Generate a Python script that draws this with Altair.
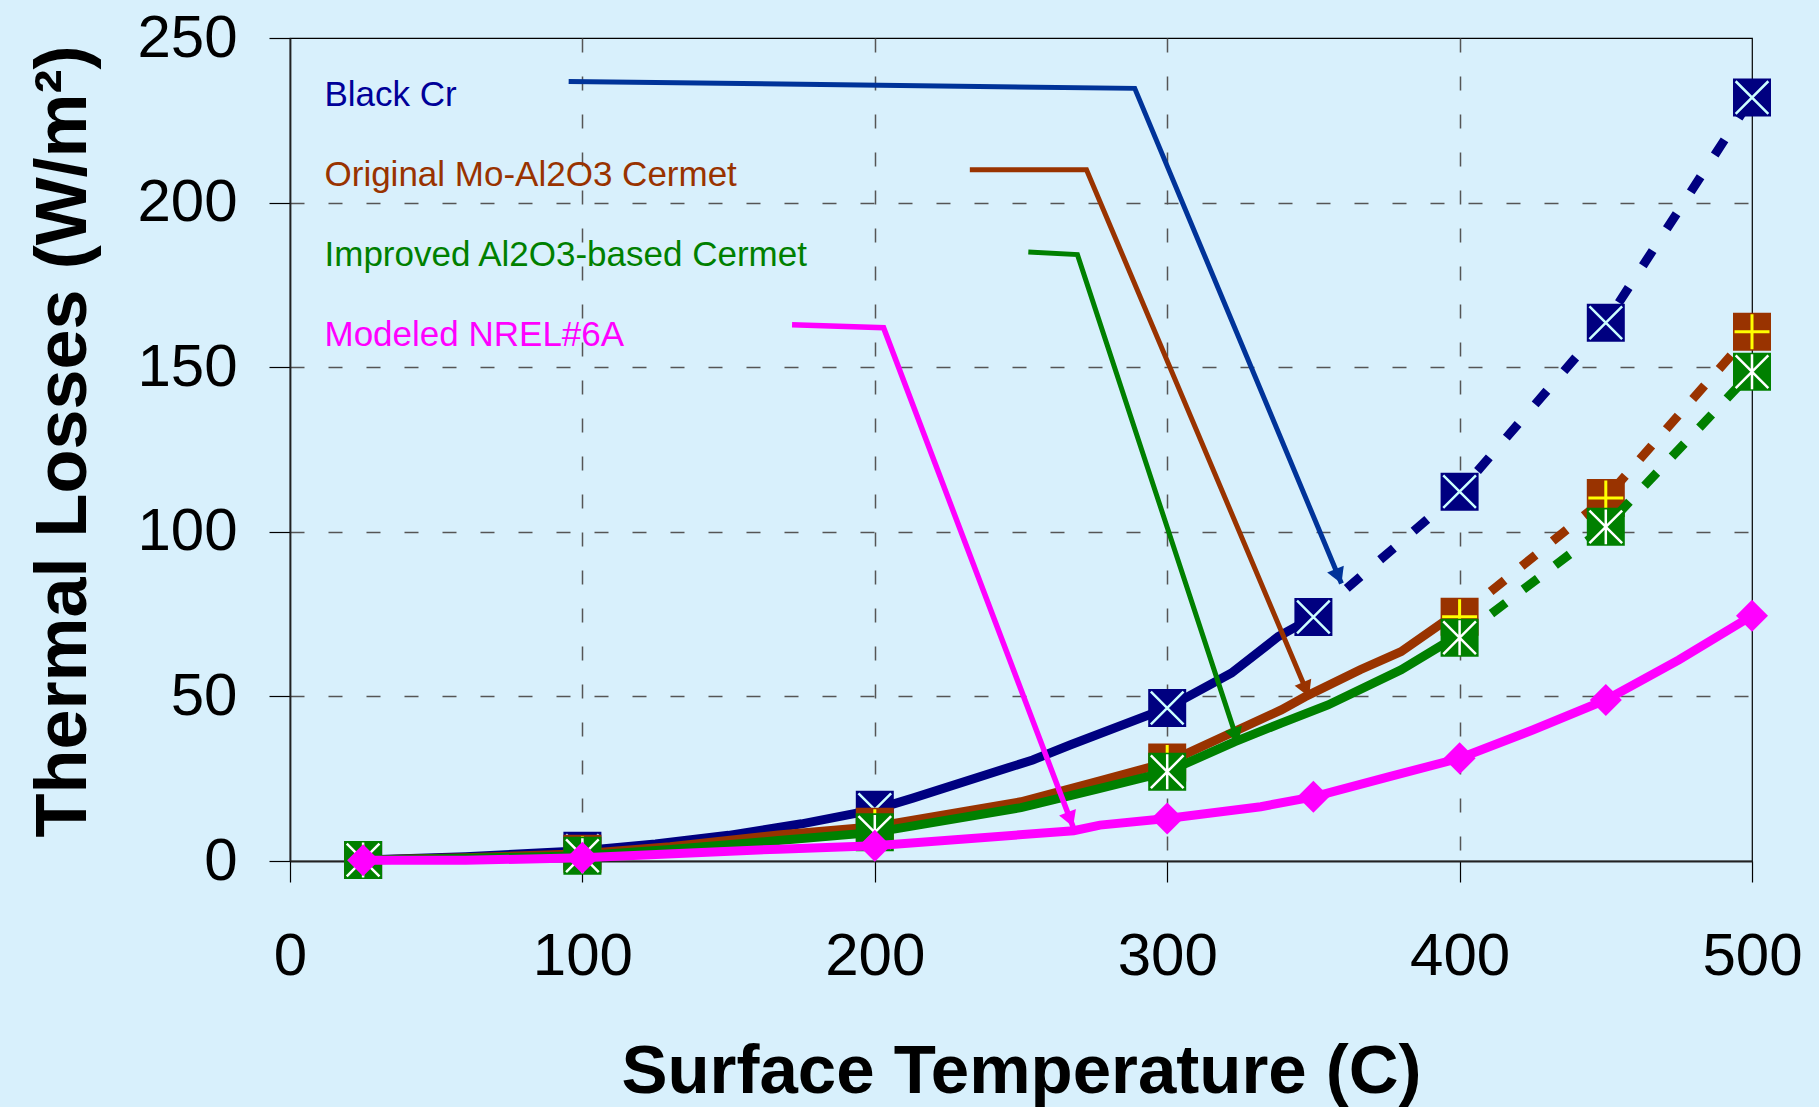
import math
import altair as alt
import pandas as pd

# ---------------- data ----------------
series_names = ["Black Cr", "Original Mo-Al2O3 Cermet",
                "Improved Al2O3-based Cermet", "Modeled NREL#6A"]
series_colors = ["#000080", "#993300", "#008000", "#FF00FF"]
label_colors = ["#000099", "#993300", "#008000", "#FF00FF"]
arrow_colors = ["#003399", "#993300", "#008000", "#FF00FF"]

# solid (measured) curves
navy_curve_x = [25, 60, 100, 125, 150, 175, 200, 213, 254, 267, 300, 322, 338, 350]
navy_curve_y = [0.3, 1.3, 3.1, 5.2, 7.8, 11.3, 15.6, 19.1, 30.7, 35.3, 46.5, 57.1, 68.2, 74.1]
brown_curve_x = [25, 60, 100, 130, 167, 200, 250, 276, 300, 339, 347, 366, 380, 394, 400]
brown_curve_y = [0.3, 1.0, 2.2, 4.3, 7.9, 10.4, 18.0, 24.1, 29.9, 45.9, 49.8, 58.1, 63.6, 72.3, 74.2]
green_curve_x = [25, 60, 100, 130, 167, 200, 250, 276, 300, 323, 339, 355, 380, 394, 400]
green_curve_y = [0.3, 0.8, 1.6, 3.5, 6.2, 8.7, 16.2, 21.8, 27.1, 36.2, 41.9, 47.4, 58.1, 65.6, 67.8]
pink_curve_x = [25, 60, 100, 167, 200, 268, 277, 300, 332, 350, 376, 400, 425, 450, 475, 500]
pink_curve_y = [0.2, 0.2, 1.0, 3.6, 4.6, 9.2, 10.9, 12.9, 16.5, 19.5, 25.6, 31.2, 39.8, 48.9, 61.1, 74.5]

# marker points
navy_mark_x = [25, 100, 200, 300, 350, 400, 450, 500]
navy_mark_y = [0.3, 3.1, 15.6, 46.5, 74.1, 112.2, 163.5, 231.9]
brown_mark_x = [25, 100, 200, 300, 400, 450, 500]
brown_mark_y = [0.3, 2.2, 10.4, 29.9, 74.2, 110.3, 160.8]
green_mark_x = [25, 100, 200, 300, 400, 450, 500]
green_mark_y = [0.3, 1.6, 8.7, 27.1, 67.8, 101.5, 148.6]
pink_mark_x = [25, 100, 200, 300, 350, 400, 450, 500]
pink_mark_y = [0.2, 1.0, 4.6, 12.9, 19.5, 31.2, 48.9, 74.5]

# dashed (extrapolated) parts
navy_dash_x = [350, 400, 450, 500]
navy_dash_y = [74.1, 112.2, 163.5, 231.9]
brown_dash_x = [400, 450, 500]
brown_dash_y = [74.2, 110.3, 160.8]
green_dash_x = [400, 450, 500]
green_dash_y = [67.8, 101.5, 148.6]

# label text anchors (data units) and annotation arrow paths
label_x = [11.8, 11.8, 11.8, 11.8]
label_y = [229.2, 205.0, 180.6, 156.3]
arrow_paths_x = [[95.3, 288.9, 359.6], [232.5, 272.4, 348.5],
                 [252.5, 269.3, 324.3], [171.7, 203.0, 267.8]]
arrow_paths_y = [[236.8, 234.7, 84.3], [210.0, 210.0, 49.9],
                 [185.0, 184.2, 35.8], [162.9, 162.0, 10.4]]
arrow_widths = [5, 5, 5, 5.5]

x_ticks = [0, 100, 200, 300, 400, 500]
y_ticks = [0, 50, 100, 150, 200, 250]

# ---------------- layout ----------------
W, H = 1462, 823
PAD = {"left": 290, "top": 38, "right": 1819 - 290 - W, "bottom": 1107 - 38 - H}
BG = "#D8F0FC"
FONT = "Liberation Sans"
PX_X = W / 500.0
PX_Y = H / 250.0

x_axis = alt.Axis(values=x_ticks, format="d", labelFont=FONT, labelFontSize=60,
                  labelColor="black", labelPadding=45, tickSize=21, tickColor="black",
                  tickWidth=1.2, domainColor="#222222", domainWidth=2,
                  grid=True, gridColor="#555555", gridWidth=1.5, gridDash=[14, 24],
                  gridOpacity={"condition": {"test": "datum.value == 0 || datum.value == 500",
                                             "value": 0}, "value": 1},
                  title="Surface Temperature (C)", titleFont=FONT, titleFontSize=69,
                  titleFontWeight="bold", titleColor="black", titleX=W / 2, titleY=231,
                  titleAlign="center", titleBaseline="alphabetic", labelFlush=False)
y_axis = alt.Axis(values=y_ticks, format="d", labelFont=FONT, labelFontSize=60,
                  labelColor="black", labelPadding=32, tickSize=21, tickColor="black",
                  tickWidth=1.2, domainColor="#222222", domainWidth=1.8,
                  grid=True, gridColor="#555555", gridWidth=1.5, gridDash=[14, 24],
                  gridOpacity={"condition": {"test": "datum.value == 0 || datum.value == 250",
                                             "value": 0}, "value": 1},
                  title="Thermal Losses (W/m\u00b2)", titleFont=FONT, titleFontSize=72,
                  titleFontWeight="bold", titleColor="black", titleAngle=270,
                  titleX=-205, titleY=403, titleAlign="center",
                  titleBaseline="alphabetic", labelFlush=False)

xs = alt.Scale(domain=[0, 500], nice=False, zero=False)
ys = alt.Scale(domain=[0, 250], nice=False, zero=False)


def X():
    return alt.X("x:Q", scale=xs, axis=x_axis)


def Y():
    return alt.Y("y:Q", scale=ys, axis=y_axis)


def df(xv, yv):
    return pd.DataFrame({"x": xv, "y": yv, "i": list(range(len(xv)))})


def line(xv, yv, color, width=9, dash=None):
    kw = dict(color=color, strokeWidth=width, clip=False)
    if dash:
        kw["strokeDash"] = dash
    return alt.Chart(df(xv, yv)).mark_line(**kw).encode(x=X(), y=Y(), order="i:Q")


def symbols(xv, yv, shape, size, fill=None, stroke=None, sw=0):
    kw = dict(shape=shape, size=size, opacity=1, clip=False)
    if fill:
        kw.update(filled=True, fill=fill, strokeWidth=0)
    else:
        kw.update(filled=False, stroke=stroke, strokeWidth=sw, fillOpacity=0)
    return alt.Chart(df(xv, yv)).mark_point(**kw).encode(x=X(), y=Y())


X_PATH = "M-0.86,-0.86L0.86,0.86M0.86,-0.86L-0.86,0.86"
PLUS_PATH = "M0,-0.92L0,0.92M-0.92,0L0.92,0"
STAR_PATH = X_PATH + "M0,-0.92L0,0.92"
SQ = 38 * 38

layers = []
# Black Cr
layers.append(line(navy_curve_x, navy_curve_y, series_colors[0]))
layers.append(line(navy_dash_x, navy_dash_y, series_colors[0], dash=[18, 26]))
layers.append(symbols(navy_mark_x, navy_mark_y, "square", SQ, fill=series_colors[0]))
layers.append(symbols(navy_mark_x, navy_mark_y, X_PATH, SQ, stroke="#CCFFFF", sw=2.5))
# Original Mo-Al2O3
layers.append(line(brown_curve_x, brown_curve_y, series_colors[1]))
layers.append(line(brown_dash_x, brown_dash_y, series_colors[1], dash=[18, 22]))
layers.append(symbols(brown_mark_x, brown_mark_y, "square", SQ, fill=series_colors[1]))
layers.append(symbols(brown_mark_x, brown_mark_y, PLUS_PATH, SQ, stroke="#FFFF00", sw=3))
# Improved Al2O3
layers.append(line(green_curve_x, green_curve_y, series_colors[2]))
layers.append(line(green_dash_x, green_dash_y, series_colors[2], dash=[18, 22]))
layers.append(symbols(green_mark_x, green_mark_y, "square", SQ, fill=series_colors[2]))
layers.append(symbols(green_mark_x, green_mark_y, STAR_PATH, SQ, stroke="#FFFFFF", sw=2.5))
# Modeled NREL#6A
layers.append(line(pink_curve_x, pink_curve_y, series_colors[3]))
layers.append(symbols(pink_mark_x, pink_mark_y, "diamond", 32 * 32, fill=series_colors[3]))

# annotation arrows
R = 9
for k in range(4):
    ax, ay = arrow_paths_x[k], arrow_paths_y[k]
    layers.append(line(ax, ay, arrow_colors[k], width=arrow_widths[k]))
    dxp = (ax[-1] - ax[-2]) * PX_X
    dyp = -(ay[-1] - ay[-2]) * PX_Y
    L = math.hypot(dxp, dyp)
    ux, uy = dxp / L, dyp / L
    ang = math.degrees(math.atan2(ux, -uy)) % 360
    h = math.sqrt(3) * R / 2
    cx = ax[-1] - ux * h / PX_X
    cy = ay[-1] + uy * h / PX_Y
    head = alt.Chart(df([cx], [cy])).mark_point(
        shape="triangle-up", size=(2 * R) ** 2, filled=True, fill=arrow_colors[k],
        strokeWidth=0, opacity=1, angle=ang, clip=False).encode(x=X(), y=Y())
    layers.append(head)

# series labels
for k in range(4):
    t = pd.DataFrame({"x": [label_x[k]], "y": [label_y[k]], "t": [series_names[k]]})
    layers.append(alt.Chart(t).mark_text(
        font=FONT, fontSize=35, color=label_colors[k], align="left",
        baseline="alphabetic").encode(x=X(), y=Y(), text="t:N"))

chart = alt.layer(*layers).properties(
    width=W, height=H,
    autosize=alt.AutoSizeParams(type="none"),
    padding=PAD,
    background=BG,
).configure_view(stroke="black", strokeWidth=1.2, fill=BG)

chart.save("out.html", embed_options={"renderer": "svg", "actions": False})
